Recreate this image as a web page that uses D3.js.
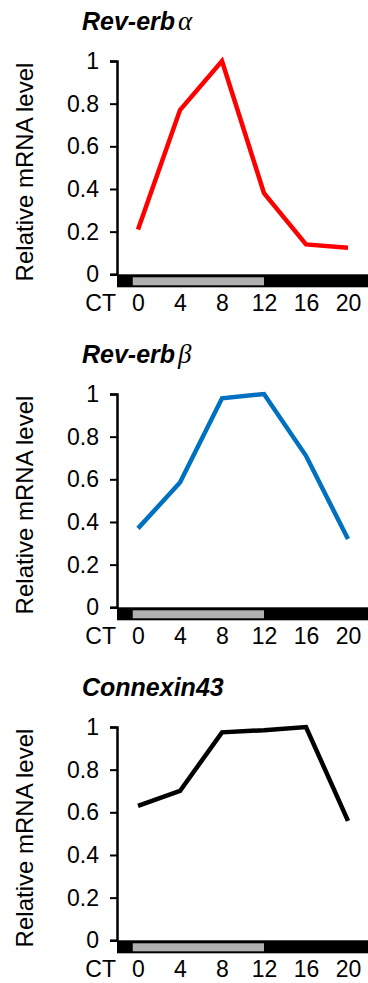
<!DOCTYPE html>
<html>
<head>
<meta charset="utf-8">
<script src="https://cdn.jsdelivr.net/npm/d3@7"></script>
<style>
  body { margin: 0; background: #fff; }
  text { font-family: "Liberation Sans", Arial, sans-serif; }
</style>
</head>
<body>
<div id="chart"></div>
<script>
// Horas circadianas (CT) y valores relativos de ARNm
const ctHours = [0, 4, 8, 12, 16, 20];
const revErbAlpha = [0.21, 0.77, 1.0, 0.38, 0.14, 0.125];
const revErbBeta = [0.37, 0.585, 0.98, 1.0, 0.71, 0.32];
const connexin43 = [0.63, 0.70, 0.975, 0.985, 1.0, 0.56];

// Marcas del eje Y
const yTicks = [0, 0.2, 0.4, 0.6, 0.8, 1];
const yTickLabels = ["0", "0.2", "0.4", "0.6", "0.8", "1"];

// Barra de luz/oscuridad (en horas CT)
const darkBar = [-2, 24];
const lightBar = [-0.5, 12];

// Títulos de los paneles
const geneNames = ["Rev-erb", "Rev-erb", "Connexin43"];
const geneSuffix = ["α", "β", ""];
const lineColors = ["#ff0000", "#0070c0", "#000000"];
const seriesList = [revErbAlpha, revErbBeta, connexin43];

const width = 368;
const height = 983;

const svg = d3.select("#chart")
  .append("svg")
  .attr("width", width)
  .attr("height", height);

// Escalas compartidas
const x = d3.scaleLinear().domain([0, 20]).range([138, 348]);
const panelStep = 333;

seriesList.forEach((values, i) => {
  const g = svg.append("g")
    .attr("transform", `translate(0,${i * panelStep})`);

  const y = d3.scaleLinear().domain([0, 1]).range([274.3, 61]);

  // Título del gen
  const title = g.append("text")
    .attr("x", 82)
    .attr("y", 30)
    .attr("font-size", "25px")
    .attr("font-weight", "bold")
    .attr("font-style", "italic")
    .attr("fill", "#000");
  title.append("tspan").text(geneNames[i]);
  if (geneSuffix[i]) {
    title.append("tspan")
      .attr("dx", 3)
      .attr("font-family", "'Liberation Serif', serif")
      .attr("font-weight", "normal")
      .attr("font-size", "27px")
      .text(geneSuffix[i]);
  }

  // Etiqueta del eje Y
  g.append("text")
    .attr("transform", `translate(33,172) rotate(-90)`)
    .attr("text-anchor", "middle")
    .attr("font-size", "24px")
    .attr("fill", "#000")
    .text("Relative mRNA level");

  // Barra negra (oscuridad) y gris (luz)
  g.append("rect")
    .attr("x", x(darkBar[0]))
    .attr("y", y(0))
    .attr("width", x(darkBar[1]) - x(darkBar[0]))
    .attr("height", 13)
    .attr("fill", "#000");

  g.append("rect")
    .attr("x", x(lightBar[0]))
    .attr("y", y(0) + 3)
    .attr("width", x(lightBar[1]) - x(lightBar[0]))
    .attr("height", 8)
    .attr("fill", "#b0b0b0");

  // Eje Y
  const yAxis = g.append("g")
    .attr("transform", `translate(${x(darkBar[0])},0)`)
    .call(d3.axisLeft(y)
      .tickValues(yTicks)
      .tickFormat((d, k) => yTickLabels[k])
      .tickSizeOuter(0)
      .tickSize(7)
      .tickPadding(11));
  yAxis.select(".domain").attr("stroke-width", 2.5);
  yAxis.selectAll(".tick line").attr("stroke-width", 2);
  yAxis.selectAll(".tick text")
    .attr("font-size", "23px")
    .attr("fill", "#000")
    .attr("font-family", "'Liberation Sans', Arial, sans-serif");

  // Eje X (solo etiquetas)
  const xAxis = g.append("g")
    .attr("transform", `translate(0,${y(0) + 20})`)
    .call(d3.axisBottom(x)
      .tickValues(ctHours)
      .tickSize(0)
      .tickPadding(0));
  xAxis.select(".domain").remove();
  xAxis.selectAll(".tick text")
    .attr("font-size", "23px")
    .attr("fill", "#000")
    .attr("font-family", "'Liberation Sans', Arial, sans-serif");

  g.append("text")
    .attr("x", 116)
    .attr("y", y(0) + 37)
    .attr("text-anchor", "end")
    .attr("font-size", "23px")
    .attr("fill", "#000")
    .text("CT");

  // Línea de expresión
  const line = d3.line()
    .x((d, k) => x(ctHours[k]))
    .y(d => y(d));

  g.append("path")
    .datum(values)
    .attr("d", line)
    .attr("fill", "none")
    .attr("stroke", lineColors[i])
    .attr("stroke-width", 4.5)
    .attr("stroke-linejoin", "miter");
});
</script>
</body>
</html>
